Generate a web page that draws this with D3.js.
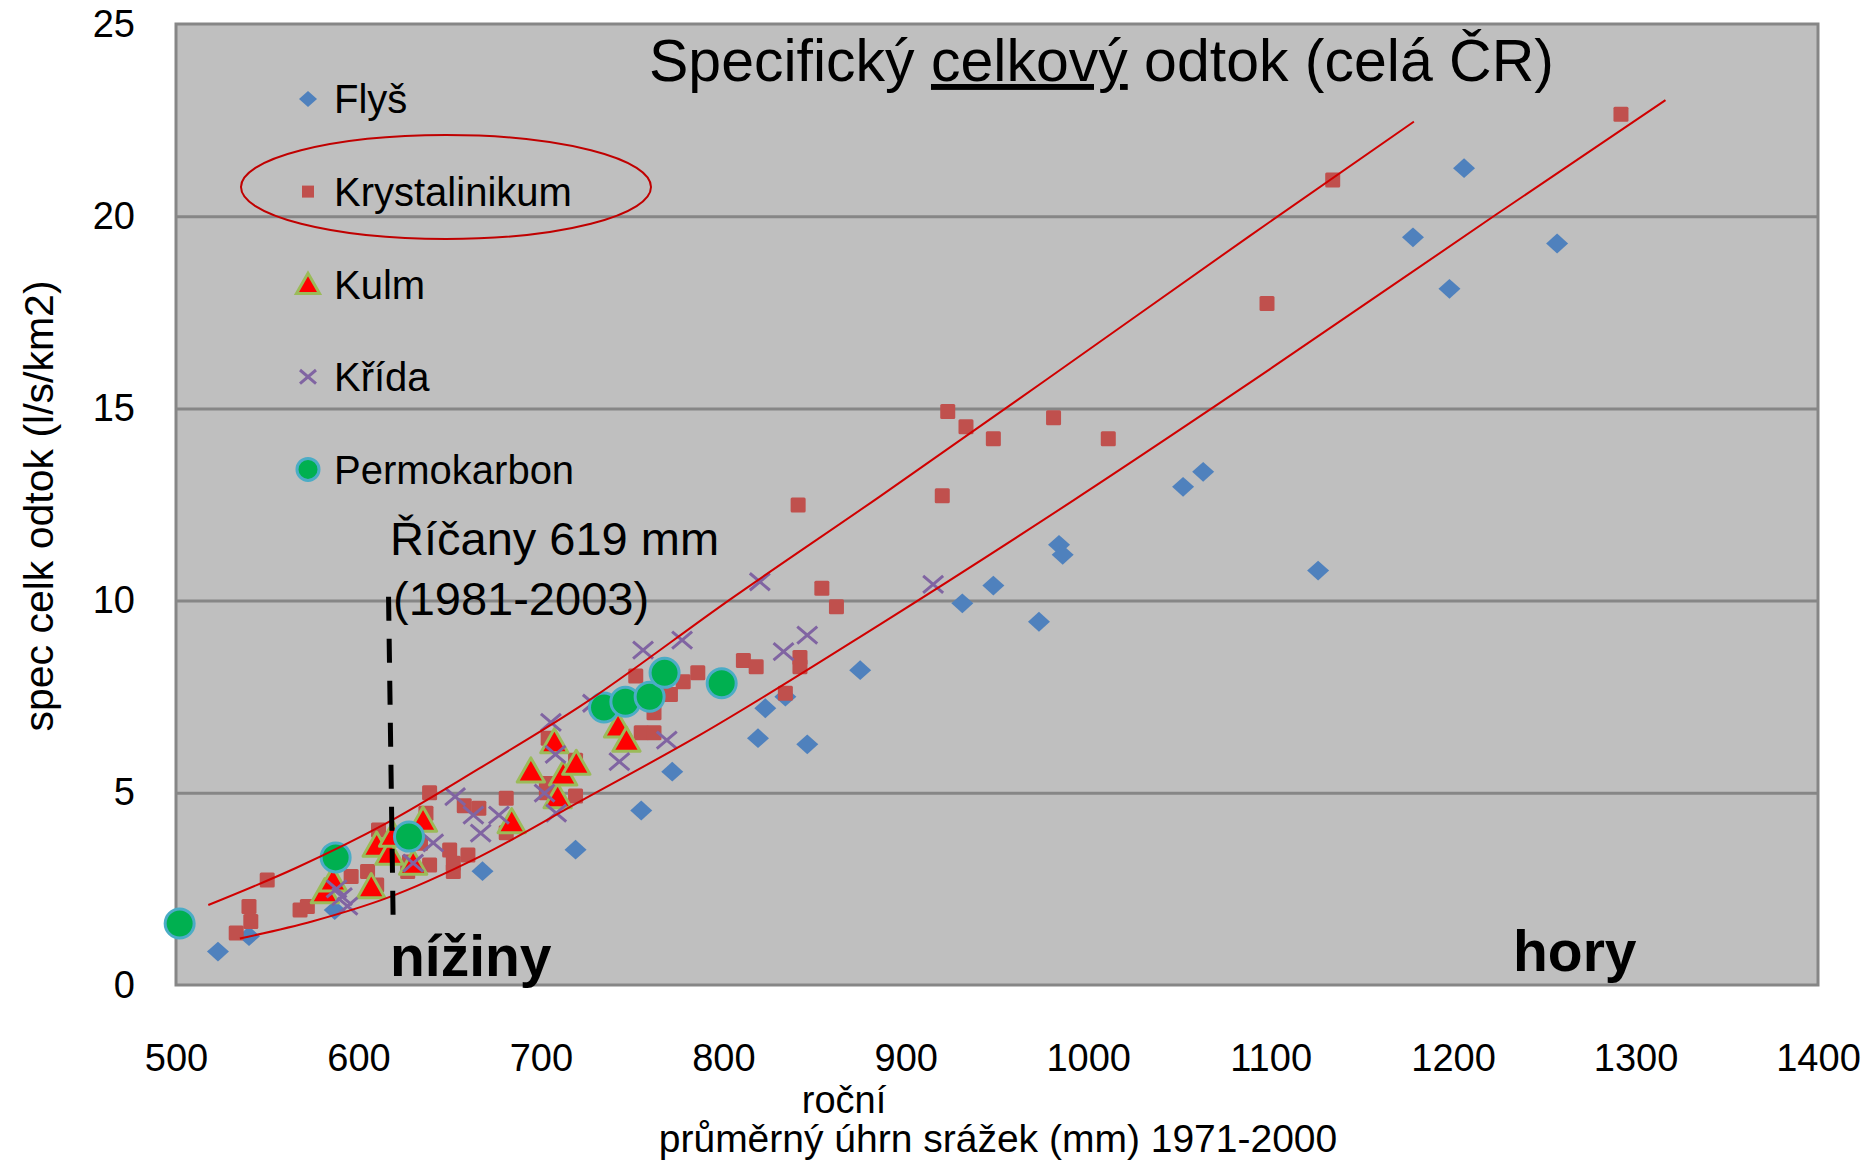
<!DOCTYPE html>
<html>
<head>
<meta charset="utf-8">
<script src="https://cdn.jsdelivr.net/npm/d3@7"></script>
<style>
  body { margin: 0; background: #fff; }
  text { font-family: "Liberation Sans", Arial, sans-serif; fill: #000; }
</style>
</head>
<body>
<div id="chart"></div>
<script>

// ---- data (x = srazky mm, y = odtok l/s/km2)
var flys = [[523,0.87],[540,1.27],[587,1.95],[668,2.96],[719,3.52],[755,4.54],[772,5.55],
  [819,6.42],[823,7.2],[834,7.5],[846,6.26],[875,8.19],[931,9.93],[948,10.39],[973,9.45],
  [984,11.45],[986,11.19],[1052,12.96],[1063,13.35],[1126,10.78],[1178,19.45],[1198,18.11],
  [1206,21.25],[1257,19.29]]

var krystalinikum = [[533,1.35],[540,2.04],[541,1.65],[550,2.73],[568,1.95],[572,2.04],[596,2.82],
  [605,2.95],[610,2.6],[611,4.03],[627,2.95],[628,3.2],[634,3.69],[637,4.47],[639,5.0],[639,3.12],
  [650,3.51],[652,3.17],[652,2.95],[660,3.38],[658,4.66],[666,4.6],[681,4.86],[681,3.96],
  [703,5.24],[703,5.0],[704,6.42],[719,5.85],[719,4.92],[752,8.04],[755,6.56],[762,6.56],
  [762,7.08],[771,7.56],[778,7.89],[786,8.12],[811,8.44],[818,8.28],[834,7.59],[842,8.52],
  [842,8.28],[841,12.49],[854,10.32],[862,9.84],[920,12.73],[923,14.92],[933,14.52],[948,14.21],
  [981,14.76],[1011,14.21],[1098,17.73],[1134,20.94],[1292,22.65]]

var kulm = [[581.6,2.43],[586,2.73],[607,2.56],[610,3.64],[617,3.43],[619,3.9],[630,3.17],
  [635.4,4.29],[684,4.25],[694.5,5.57],[707.4,6.33],[709.2,4.9],[712.2,5.49],[719.4,5.77],
  [742.3,6.74],[746.9,6.37]]

var krida = [[588,2.5],[591,2.3],[594,2.05],[630,3.17],[641,3.7],[653,4.9],[663,4.42],[667,3.95],
  [677,4.42],[702,4.99],[705.5,6.83],[708,6.0],[708.4,4.47],[728.5,7.33],[743,5.81],[756,8.71],
  [769,6.37],[777.4,8.97],[820,10.49],[833,8.67],[846,9.1],[915,10.42]]

var permokarbon = [[502,1.6],[587.5,3.32],[627.7,3.86],[734.6,7.22],[746.3,7.37],[759.6,7.5],
  [767.8,8.12],[799.1,7.85]]

// trend curves
var trendUpper = [[517.7,2.08],[566,3.05],[615.4,4.21],[666.5,5.64],[721.2,7.24],[803.4,10.02],
  [885.5,12.7],[976.8,15.74],[1088,19.47],[1178.5,22.46]]
var trendLower = [[535,1.21],[575,1.66],[615.4,2.26],[666.5,3.34],[721.2,4.77],[787,6.5],
  [885.5,9.37],[992.3,12.62],[1090.9,15.74],[1223.2,20.03],[1316.4,23.02]]

// Ricany 619 mm marker line
var ricany = [[616.5,10.1],[619,1.75]]

var seriesNames = ["Flyš", "Krystalinikum", "Kulm", "Křída", "Permokarbon"]
var xTicks = [500,600,700,800,900,1000,1100,1200,1300,1400]
var yTicks = [0,5,10,15,20,25]
var yGrid = [5,10,15,20]


var width = 1868
var height = 1166
var plot = {left: 176, right: 1818, top: 24, bottom: 985}

let svg = d3.select("#chart")
  .append("svg")
  .attr("width", width)
  .attr("height", height)

var x = d3.scaleLinear().domain([500, 1400]).range([plot.left, plot.right])
var y = d3.scaleLinear().domain([0, 25]).range([plot.bottom, plot.top])

// plot background
svg.append("rect")
  .attr("x", plot.left)
  .attr("y", plot.top)
  .attr("width", plot.right - plot.left)
  .attr("height", plot.bottom - plot.top)
  .attr("fill", "#bfbfbf")

// gridlines
svg.append("g")
  .attr("transform", "translate(" + plot.left + ",0)")
  .call(d3.axisLeft(y).tickValues(yGrid).tickSize(-(plot.right - plot.left)).tickFormat(""))
  .call(g => g.select(".domain").remove())
  .selectAll("line")
  .attr("stroke", "#868686")
  .attr("stroke-width", 3)

svg.append("rect")
  .attr("x", plot.left)
  .attr("y", plot.top)
  .attr("width", plot.right - plot.left)
  .attr("height", plot.bottom - plot.top)
  .attr("fill", "none")
  .attr("stroke", "#868686")
  .attr("stroke-width", 3)

// axes, labels only
var yAxis = svg.append("g")
  .attr("transform", "translate(" + plot.left + ",0)")
  .call(d3.axisLeft(y).tickValues(yTicks).tickSize(0).tickPadding(41))
yAxis.select(".domain").remove()
yAxis.selectAll("text")
  .style("font-family", "'Liberation Sans', Arial, sans-serif")
  .style("font-size", "38px")
  .attr("fill", "#000")

var xAxis = svg.append("g")
  .attr("transform", "translate(0," + plot.bottom + ")")
  .call(d3.axisBottom(x).tickValues(xTicks).tickFormat(d3.format("d")).tickSize(0).tickPadding(59))
xAxis.select(".domain").remove()
xAxis.selectAll("text")
  .style("font-family", "'Liberation Sans', Arial, sans-serif")
  .style("font-size", "38px")
  .attr("fill", "#000")

// axis titles
svg.append("text")
  .attr("transform", "translate(53,506) rotate(-90)")
  .attr("text-anchor", "middle")
  .style("font-size", "41px")
  .text("spec celk odtok (l/s/km2)")

svg.append("text")
  .attr("x", 844).attr("y", 1113)
  .attr("text-anchor", "middle")
  .style("font-size", "38px")
  .text("roční")

svg.append("text")
  .attr("x", 998).attr("y", 1152)
  .attr("text-anchor", "middle")
  .style("font-size", "39px")
  .text("průměrný úhrn srážek (mm) 1971-2000")


// marker shapes
function diamondPath(r) {
  return "M0," + (-r * 0.9) + "L" + r + ",0L0," + (r * 0.9) + "L" + (-r) + ",0Z"
}
function trianglePath(r) {
  return "M0," + (-r) + "L" + (r * 1.05) + "," + (r * 0.85) + "L" + (-r * 1.05) + "," + (r * 0.85) + "Z"
}
function crossPath(r) {
  return "M" + (-r) + "," + (-r * 0.85) + "L" + r + "," + (r * 0.85) +
    "M" + r + "," + (-r * 0.85) + "L" + (-r) + "," + (r * 0.85)
}

var styles = {
  "Flyš": sel => sel.append("path").attr("d", diamondPath(11)).attr("fill", "#4f81bd"),
  "Krystalinikum": sel => sel.append("rect").attr("x", -7.5).attr("y", -7.5)
    .attr("width", 15).attr("height", 15).attr("rx", 1.5).attr("fill", "#c0504d"),
  "Kulm": sel => sel.append("path").attr("d", trianglePath(13)).attr("fill", "#ff0000")
    .attr("stroke", "#9bbb59").attr("stroke-width", 3).attr("stroke-linejoin", "round"),
  "Křída": sel => sel.append("path").attr("d", crossPath(10)).attr("fill", "none")
    .attr("stroke", "#8064a2").attr("stroke-width", 3),
  "Permokarbon": sel => sel.append("circle").attr("r", 14.5).attr("fill", "#00b050")
    .attr("stroke", "#4bacc6").attr("stroke-width", 3)
}

var allSeries = [flys, krystalinikum, kulm, krida, permokarbon]

let marks = svg.append("g")
allSeries.forEach(function(data, i) {
  var name = seriesNames[i]
  var g = marks.append("g").attr("class", "series")
  g.selectAll("g")
    .data(data)
    .enter().append("g")
    .attr("transform", d => "translate(" + x(d[0]) + "," + y(d[1]) + ")")
    .each(function() { styles[name](d3.select(this)) })
})

// trend lines
var line = d3.line()
  .x(d => x(d[0]))
  .y(d => y(d[1]))
  .curve(d3.curveMonotoneX)

svg.selectAll(".trend")
  .data([trendUpper, trendLower])
  .enter().append("path")
  .attr("class", "trend")
  .attr("d", line)
  .attr("fill", "none")
  .attr("stroke", "#d00000")
  .attr("stroke-width", 2)

// dashed line for Ricany
svg.append("path")
  .datum(ricany)
  .attr("d", d3.line().x(d => x(d[0])).y(d => y(d[1])))
  .attr("stroke", "#000")
  .attr("stroke-width", 5)
  .attr("stroke-dasharray", "24,18")
  .attr("fill", "none")

// legend
let legend = svg.append("g")
seriesNames.forEach(function(name, i) {
  var ly = 99 + i * 92.6
  var m = legend.append("g").attr("transform", "translate(308," + ly + ")")
  var small = {
    "Flyš": sel => sel.append("path").attr("d", diamondPath(9)).attr("fill", "#4f81bd"),
    "Krystalinikum": sel => sel.append("rect").attr("x", -6).attr("y", -6)
      .attr("width", 12).attr("height", 12).attr("fill", "#c0504d"),
    "Kulm": sel => sel.append("path").attr("d", trianglePath(11)).attr("fill", "#ff0000")
      .attr("stroke", "#9bbb59").attr("stroke-width", 3),
    "Křída": sel => sel.append("path").attr("d", crossPath(8)).attr("fill", "none")
      .attr("stroke", "#8064a2").attr("stroke-width", 3),
    "Permokarbon": sel => sel.append("circle").attr("r", 11).attr("fill", "#00b050")
      .attr("stroke", "#4bacc6").attr("stroke-width", 3)
  }
  small[name](m)
  legend.append("text")
    .attr("x", 334).attr("y", ly)
    .attr("dy", "0.36em")
    .style("font-size", "40px")
    .text(name)
})

// ellipse around Krystalinikum
svg.append("ellipse")
  .attr("cx", 446).attr("cy", 187)
  .attr("rx", 205).attr("ry", 52)
  .attr("fill", "none")
  .attr("stroke", "#c00000")
  .attr("stroke-width", 2)

// title
var title = svg.append("text")
  .attr("x", 649).attr("y", 81)
  .style("font-size", "59px")
title.append("tspan").text("Specifický ")
title.append("tspan").text("celkový").style("text-decoration", "underline")
title.append("tspan").text(" odtok (celá ČR)")

// annotations
svg.append("text")
  .attr("x", 390).attr("y", 555)
  .style("font-size", "47px")
  .text("Říčany 619 mm")
svg.append("text")
  .attr("x", 393).attr("y", 615)
  .style("font-size", "47px")
  .text("(1981-2003)")

svg.append("text")
  .attr("x", 390).attr("y", 976)
  .style("font-size", "57px")
  .style("font-weight", "bold")
  .text("nížiny")
svg.append("text")
  .attr("x", 1513).attr("y", 971)
  .style("font-size", "57px")
  .style("font-weight", "bold")
  .text("hory")

</script>
</body>
</html>
